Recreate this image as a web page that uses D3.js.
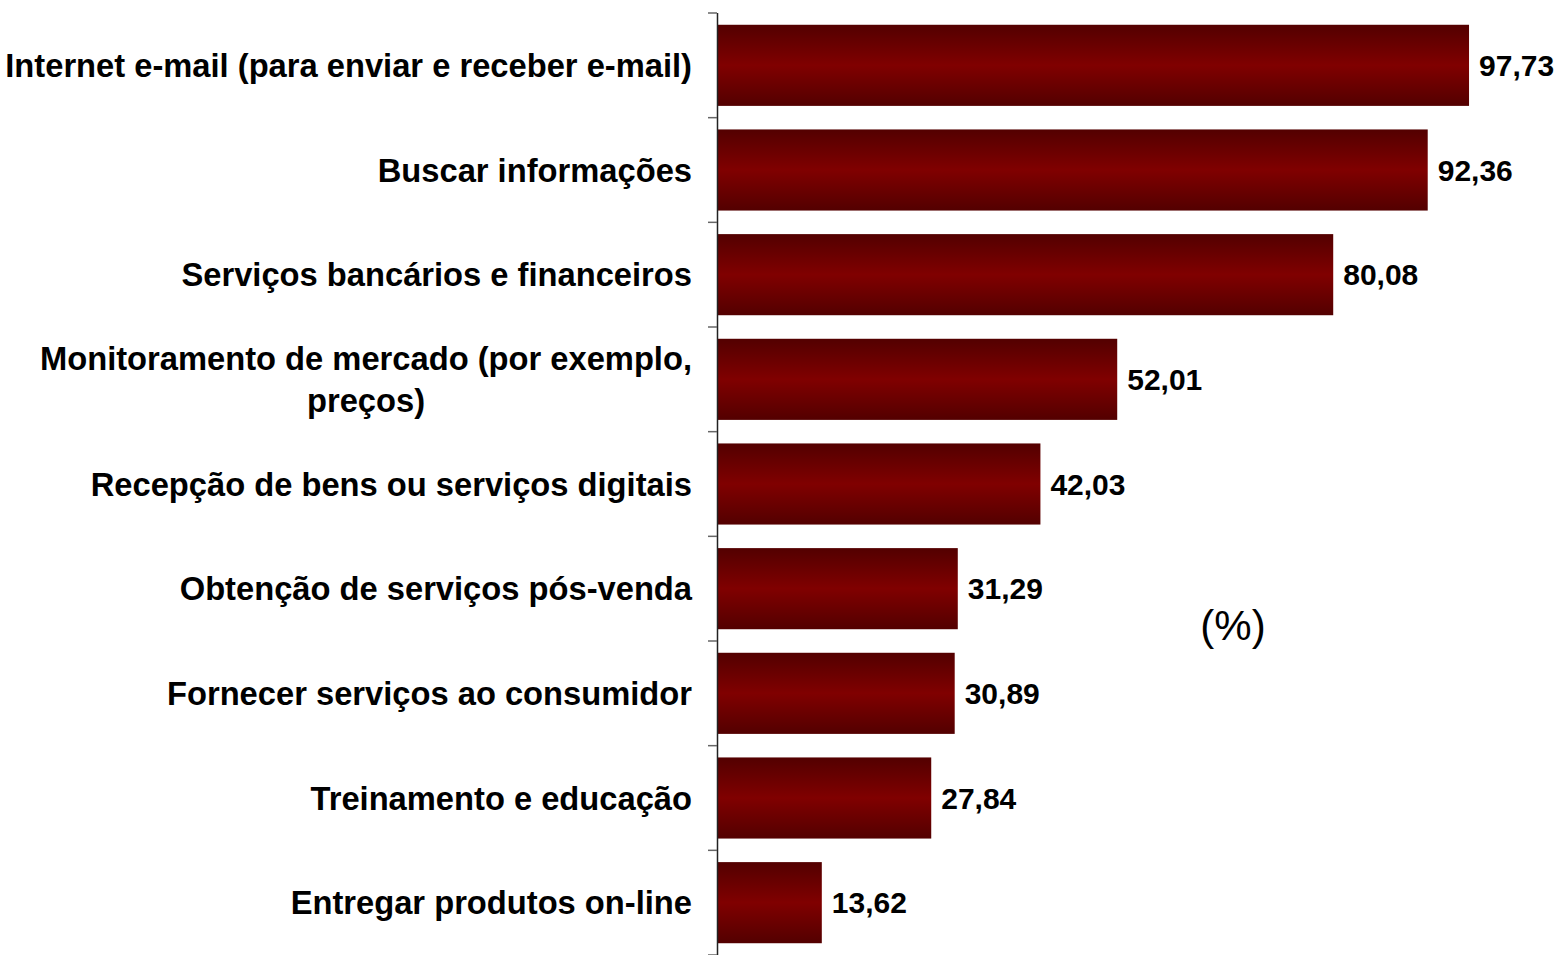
<!DOCTYPE html>
<html>
<head>
<script src="https://d3js.org/d3.v7.min.js" charset="utf-8"></script>
<style>
    body { margin: 0; background: #fff; }
    svg { display: block; }
    .cat { font-family: "Liberation Sans", Arial, sans-serif; font-weight: bold; font-size: 32.7px; fill: #000; }
    .val { font-family: "Liberation Sans", Arial, sans-serif; font-weight: bold; font-size: 30px; fill: #000; }
    .unit { font-family: "Liberation Sans", Arial, sans-serif; font-size: 42px; fill: #000; }
</style>
</head>
<body>
<script>
    // categories (top to bottom) and their values
    var categories = [
        "Internet e-mail (para enviar e receber e-mail)",
        "Buscar informações",
        "Serviços bancários e financeiros",
        "Monitoramento de mercado (por exemplo,|preços)",
        "Recepção de bens ou serviços digitais",
        "Obtenção de serviços pós-venda",
        "Fornecer serviços ao consumidor",
        "Treinamento e educação",
        "Entregar produtos on-line"
    ];
    var values = [97.73, 92.36, 80.08, 52.01, 42.03, 31.29, 30.89, 27.84, 13.62];
    var valueLabels = ["97,73", "92,36", "80,08", "52,01", "42,03", "31,29", "30,89", "27,84", "13,62"];
    var unitLabel = "(%)";

    var w = 1557, h = 955;
    var svg = d3.select("body").append("svg")
        .attr("width", w)
        .attr("height", h);

    var defs = svg.append("defs");
    var grad = defs.append("linearGradient")
        .attr("id", "barGrad")
        .attr("x1", 0).attr("y1", 0).attr("x2", 0).attr("y2", 1);
    grad.append("stop").attr("offset", "0%").attr("stop-color", "#530000");
    grad.append("stop").attr("offset", "50%").attr("stop-color", "#800000");
    grad.append("stop").attr("offset", "100%").attr("stop-color", "#530000");

    var x = d3.scaleLinear().domain([0, 100]).range([717, 1486.5]);
    var y = d3.scaleBand().domain(d3.range(categories.length))
        .range([13, 955]).paddingInner(0.225).paddingOuter(0.1125);

    // bars
    svg.selectAll("rect.bar")
        .data(values)
        .enter()
        .append("rect")
        .attr("class", "bar")
        .attr("x", x(0))
        .attr("y", function(d, i) { return y(i); })
        .attr("width", function(d) { return x(d) - x(0); })
        .attr("height", y.bandwidth())
        .attr("fill", "url(#barGrad)");

    // axis line and ticks at category boundaries
    var step = y.step();
    var axis = svg.append("g");
    axis.append("line")
        .attr("x1", x(0) + 0.5).attr("x2", x(0) + 0.5)
        .attr("y1", 13).attr("y2", h)
        .attr("stroke", "#222").attr("stroke-width", 1.5);
    axis.selectAll("line.tick")
        .data(d3.range(categories.length + 1))
        .enter()
        .append("line")
        .attr("class", "tick")
        .attr("x1", x(0) - 9).attr("x2", x(0))
        .attr("y1", function(i) { return 13 + i * step; })
        .attr("y2", function(i) { return 13 + i * step; })
        .attr("stroke", "#666").attr("stroke-width", 1.5);

    // category labels
    categories.forEach(function(c, i) {
        var lines = c.split("|");
        var cy = y(i) + y.bandwidth() / 2;
        var lh = 42;
        var t = svg.append("text")
            .attr("class", "cat")
            .attr("dominant-baseline", "central");
        if (lines.length === 1) {
            t.attr("x", 692).attr("y", cy).attr("text-anchor", "end").text(c);
        } else {
            // measure the first line to center the block under right alignment
            t.attr("text-anchor", "middle");
            var tmp = svg.append("text").attr("class", "cat").text(lines[0]);
            var wid = tmp.node().getComputedTextLength();
            tmp.remove();
            var cx = 692 - wid / 2;
            lines.forEach(function(l, k) {
                t.append("tspan")
                    .attr("x", cx)
                    .attr("y", cy + (k - (lines.length - 1) / 2) * lh)
                    .text(l);
            });
        }
    });

    // value labels
    svg.selectAll("text.val")
        .data(values)
        .enter()
        .append("text")
        .attr("class", "val")
        .attr("x", function(d) { return x(d) + 10; })
        .attr("y", function(d, i) { return y(i) + y.bandwidth() / 2; })
        .attr("dominant-baseline", "central")
        .text(function(d, i) { return valueLabels[i]; });

    svg.append("text")
        .attr("class", "unit")
        .attr("x", 1233)
        .attr("y", 625)
        .attr("text-anchor", "middle")
        .attr("dominant-baseline", "central")
        .text(unitLabel);
</script>
</body>
</html>
